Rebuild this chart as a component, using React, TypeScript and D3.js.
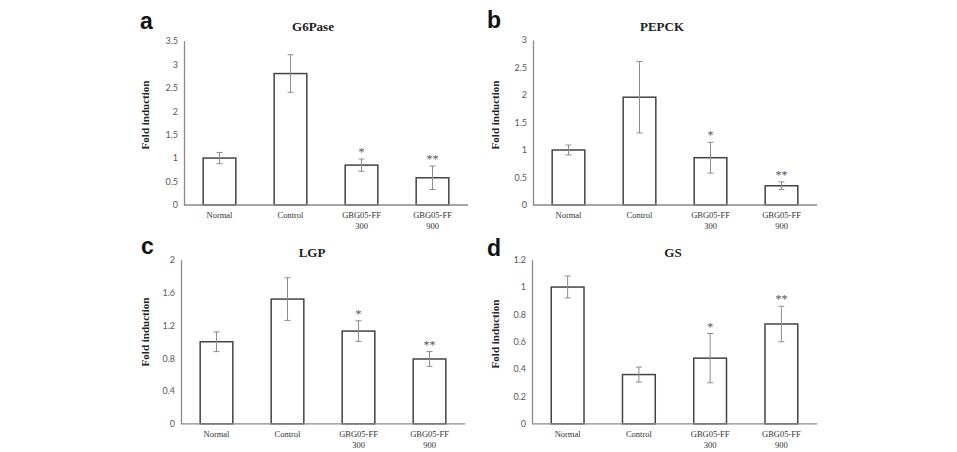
import React, { useEffect, useRef } from "react";
import * as d3 from "d3";

// group labels along the x axis (two-line labels split on "|")
const categories = ["Normal", "Control", "GBG05-FF|300", "GBG05-FF|900"];
const significance = ["", "", "*", "**"];

// mean fold induction and error per group
const g6paseMean = [1.0, 2.8, 0.85, 0.58];
const g6paseErr = [0.12, 0.4, 0.13, 0.25];
const pepckMean = [1.0, 1.96, 0.86, 0.35];
const pepckErr = [0.09, 0.65, 0.28, 0.07];
const lgpMean = [1.0, 1.52, 1.13, 0.79];
const lgpErr = [0.12, 0.26, 0.125, 0.09];
const gsMean = [1.0, 0.36, 0.48, 0.73];
const gsErr = [0.08, 0.055, 0.18, 0.13];

// y tick values
const g6paseTicks = [0, 0.5, 1, 1.5, 2, 2.5, 3, 3.5];
const pepckTicks = [0, 0.5, 1, 1.5, 2, 2.5, 3];
const lgpTicks = [0, 0.4, 0.8, 1.2, 1.6, 2];
const gsTicks = [0, 0.2, 0.4, 0.6, 0.8, 1, 1.2];

interface PanelProps {
  letter: string;
  title: string;
  means: number[];
  errs: number[];
  ticks: number[];
  // plot frame
  x0: number;
  x1: number;
  yBase: number;
  yTop: number;
  titleX: number;
  titleY: number;
  letterX: number;
  letterY: number;
  labelX: number;
  labelY: number;
}

const Panel = (p: PanelProps) => {
  const axisRef = useRef<SVGGElement>(null);

  const x = d3
    .scaleBand<string>()
    .domain(categories)
    .range([p.x0, p.x1])
    .paddingInner(0.54)
    .paddingOuter(0.27);
  const y = d3
    .scaleLinear()
    .domain([0, p.ticks[p.ticks.length - 1]])
    .range([p.yBase, p.yTop]);

  useEffect(() => {
    const g = d3.select(axisRef.current);
    g.call(
      d3
        .axisLeft(y)
        .tickValues(p.ticks)
        .tickSize(0)
        .tickPadding(6)
        .tickFormat(d3.format("~g") as any)
    );
    g.select(".domain").attr("stroke", "#8a8a8a").attr("stroke-width", 1.3);
    g.selectAll("text")
      .attr("fill", "#595959")
      .attr("font-family", "Lato, 'Open Sans', sans-serif")
      .attr("font-size", 9);
  }, []);

  const bw = x.bandwidth();
  const cap = 3;

  return (
    <g>
      <text
        x={p.letterX}
        y={p.letterY}
        fontFamily="'Liberation Sans', Arial, sans-serif"
        fontWeight="bold"
        fontSize={23}
        fill="#111"
      >
        {p.letter}
      </text>
      <text
        x={p.titleX}
        y={p.titleY}
        textAnchor="middle"
        fontFamily="'Liberation Serif', serif"
        fontWeight="bold"
        fontSize={13}
        fill="#222"
      >
        {p.title}
      </text>
      <text
        transform={`translate(${p.labelX},${p.labelY}) rotate(-90)`}
        textAnchor="middle"
        dominantBaseline="central"
        fontFamily="'Liberation Serif', serif"
        fontWeight="bold"
        fontSize={11}
        fill="#222"
      >
        Fold induction
      </text>

      {categories.map((c, i) => {
        const bx = x(c)!;
        const top = y(p.means[i]);
        const eHi = y(p.means[i] + p.errs[i]);
        const eLo = y(p.means[i] - p.errs[i]);
        const cx = bx + bw / 2;
        return (
          <g key={c}>
            <rect
              x={bx}
              y={top}
              width={bw}
              height={p.yBase - top}
              fill="#fff"
              stroke="#444"
              strokeWidth={1.5}
            />
            <g stroke="#8c8c8c" strokeWidth={1}>
              <line x1={cx} x2={cx} y1={eHi} y2={eLo} />
              <line x1={cx - cap} x2={cx + cap} y1={eHi} y2={eHi} />
              <line x1={cx - cap} x2={cx + cap} y1={eLo} y2={eLo} />
            </g>
            {significance[i] && (
              <text
                x={cx}
                y={eHi - 3}
                textAnchor="middle"
                fontFamily="'Liberation Serif', serif"
                fontSize={12}
                fill="#555"
              >
                {significance[i]}
              </text>
            )}
            {c.split("|").map((line, k) => (
              <text
                key={k}
                x={cx}
                y={p.yBase + 13 + k * 11}
                textAnchor="middle"
                fontFamily="'Liberation Serif', serif"
                fontSize={8.5}
                fill="#333"
              >
                {line}
              </text>
            ))}
          </g>
        );
      })}

      <g ref={axisRef} transform={`translate(${p.x0},0)`} />
      <line
        x1={p.x0}
        x2={p.x1}
        y1={p.yBase}
        y2={p.yBase}
        stroke="#8a8a8a"
        strokeWidth={1.3}
      />
    </g>
  );
};

export default function App() {
  return (
    <svg
      width={957}
      height={452}
      style={{ position: "absolute", left: 0, top: 0, background: "#fff" }}
    >
      <Panel
        letter="a"
        title="G6Pase"
        means={g6paseMean}
        errs={g6paseErr}
        ticks={g6paseTicks}
        x0={184}
        x1={468}
        yBase={205}
        yTop={40.7}
        titleX={313}
        titleY={30.5}
        letterX={140}
        letterY={29}
        labelX={145}
        labelY={115}
      />
      <Panel
        letter="b"
        title="PEPCK"
        means={pepckMean}
        errs={pepckErr}
        ticks={pepckTicks}
        x0={533}
        x1={817}
        yBase={205}
        yTop={40}
        titleX={662}
        titleY={30.5}
        letterX={487}
        letterY={28}
        labelX={495}
        labelY={115}
      />
      <Panel
        letter="c"
        title="LGP"
        means={lgpMean}
        errs={lgpErr}
        ticks={lgpTicks}
        x0={181}
        x1={465}
        yBase={423.8}
        yTop={259.7}
        titleX={312}
        titleY={257}
        letterX={141}
        letterY={254}
        labelX={145}
        labelY={332}
      />
      <Panel
        letter="d"
        title="GS"
        means={gsMean}
        errs={gsErr}
        ticks={gsTicks}
        x0={532}
        x1={817}
        yBase={423.8}
        yTop={259.7}
        titleX={673}
        titleY={257}
        letterX={487}
        letterY={256}
        labelX={495}
        labelY={334}
      />
    </svg>
  );
}
